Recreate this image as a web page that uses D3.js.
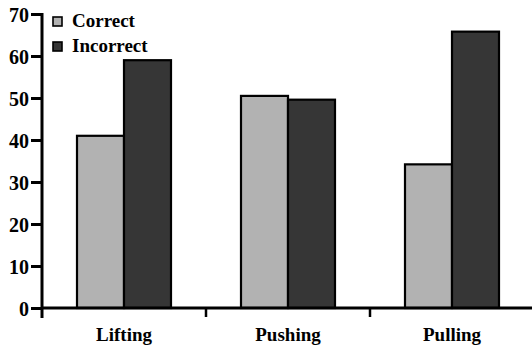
<!DOCTYPE html>
<html><head><meta charset="utf-8">
<script src="https://cdn.jsdelivr.net/npm/d3@7"></script>
<style>body{margin:0;background:#fff}svg{display:block}
.lbl{font-family:"Liberation Serif" !important;font-weight:bold;fill:#000}
</style>
</head><body>
<svg id="c" width="532" height="348"></svg>
<script>
const categories = ["Lifting", "Pushing", "Pulling"];
const seriesNames = ["Correct", "Incorrect"];
const correct = [41, 50.5, 34.2];
const incorrect = [59, 49.6, 65.8];
const yTicks = [0, 10, 20, 30, 40, 50, 60, 70];
const colors = ["#b2b2b2", "#363636"];

const svg = d3.select("#c");
const x0 = 42, x1 = 534, yTop = 14, yBase = 308;
const x = d3.scaleBand().domain(categories).range([x0, x1]).paddingInner(0).paddingOuter(0);
const xs = d3.scaleBand().domain(seriesNames).range([0, 94]);
const y = d3.scaleLinear().domain([0, 70]).range([yBase, yTop]);

function serif(sel, size) {
  sel.attr("class", "lbl")
    .style("font-family", "Liberation Serif", "important")
    .style("font-weight", "bold", "important")
    .style("font-size", size + "px", "important");
}

const data = categories.map((c, i) => ({cat: c, vals: [correct[i], incorrect[i]]}));

// bars
const g = svg.append("g");
data.forEach(d => {
  const cx = x(d.cat) + x.bandwidth() / 2 - 47;
  d.vals.forEach((v, j) => {
    g.append("rect")
      .attr("x", cx + xs(seriesNames[j]))
      .attr("y", y(v))
      .attr("width", xs.bandwidth())
      .attr("height", y(0) - y(v))
      .attr("fill", colors[j])
      .attr("stroke", "#000").attr("stroke-width", 2.2);
  });
});

// y axis
const ya = svg.append("g").attr("transform", `translate(${x0},0)`)
  .call(d3.axisLeft(y).tickValues(yTicks).tickSize(11).tickPadding(2).tickSizeOuter(0));
ya.attr("font-family", null).attr("font-size", null);
ya.select(".domain").remove();
ya.selectAll(".tick line").attr("stroke", "#000").attr("stroke-width", 3);
ya.selectAll(".tick text").call(serif, 20).attr("dy", "0.36em");
svg.append("line").attr("x1", x0).attr("x2", x0).attr("y1", yTop - 1).attr("y2", 318)
  .attr("stroke", "#000").attr("stroke-width", 3);

// x axis
const xa = svg.append("g").attr("transform", `translate(0,${yBase})`)
  .call(d3.axisBottom(x).tickSize(0).tickPadding(0).tickSizeOuter(0));
xa.attr("font-family", null).attr("font-size", null);
xa.select(".domain").remove();
xa.selectAll(".tick text").call(serif, 19).attr("dy", null).attr("y", 33);
svg.append("line").attr("x1", x0).attr("x2", 532).attr("y1", yBase).attr("y2", yBase)
  .attr("stroke", "#000").attr("stroke-width", 3);
categories.slice(1).forEach(c => {
  svg.append("line").attr("x1", x(c)).attr("x2", x(c)).attr("y1", yBase).attr("y2", 317)
    .attr("stroke", "#000").attr("stroke-width", 2.5);
});

// legend
seriesNames.forEach((s, i) => {
  const ly = 17 + i * 25;
  svg.append("rect").attr("x", 53).attr("y", ly).attr("width", 9).attr("height", 9)
    .attr("fill", colors[i]).attr("stroke", "#000").attr("stroke-width", 1.6);
  svg.append("text").attr("x", 72).attr("y", ly + 9.5).text(s).call(serif, 19);
});
</script>
</body></html>
